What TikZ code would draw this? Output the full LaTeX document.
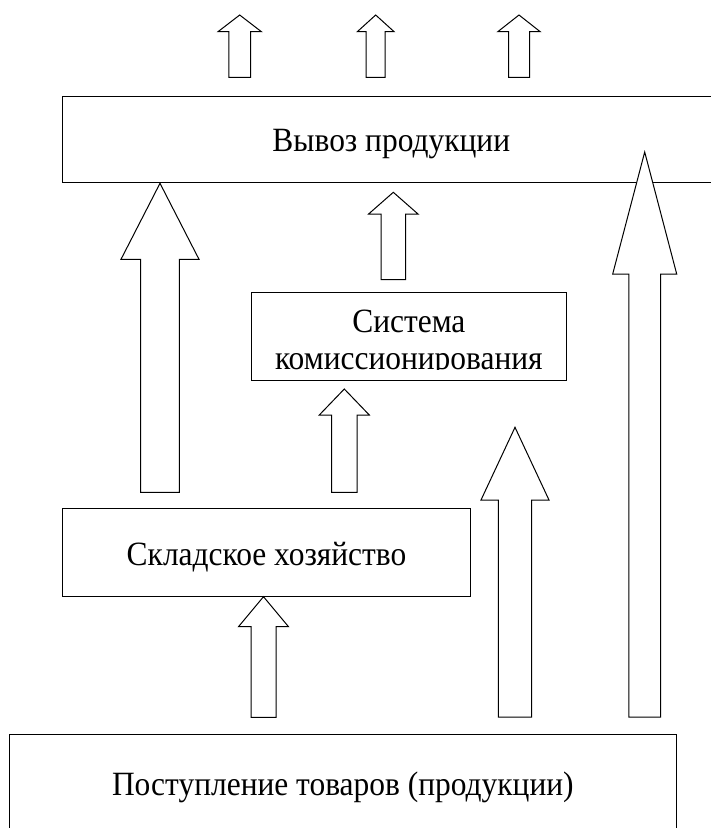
\documentclass[tikz,border=0pt]{standalone}
\usepackage{fontspec}
\setmainfont{Liberation Serif}
\newcommand{\narrowtext}[1]{\scalebox{0.925}[1]{#1}}
\tikzset{
  box/.style={draw,line width=1pt,inner sep=0pt},
  boxtext/.style={font=\fontsize{34}{37}\selectfont,inner sep=0pt,anchor=base},
  blockarrow/.style={draw,fill=white,line width=1pt,line join=miter}
}
\begin{document}
\begin{tikzpicture}[x=1pt,y=-1pt]
\useasboundingbox (0,0) rectangle (711,828);
\clip (0,0) rectangle (711,828);

% Boxes
\node[box,minimum width=657.3,minimum height=85.6] (vyvoz) at (391.3,139.5) {};
\node[boxtext] (vyvoztext) at (391.3,151.7) {\narrowtext{Вывоз продукции}};

\node[box,minimum width=314.3,minimum height=87.7] (sistema) at (408.85,336.15) {};
\begin{scope}
  \clip (sistema.north west) rectangle ([yshift=11pt]sistema.south east);
  % base of a two-line node is the baseline of its last line
  \node[boxtext,align=center] (sistematext) at (408.85,369.7) {\narrowtext{Система}\\\narrowtext{комиссионирования}};
\end{scope}

\node[box,minimum width=407.6,minimum height=88] (sklad) at (266.5,552.7) {};
\node[boxtext] (skladtext) at (266.5,565.7) {\narrowtext{Складское хозяйство}};

\node[box,minimum width=667.7,minimum height=104] (postup) at (342.85,786) {};
\node[boxtext] (postuptext) at (342.85,795.7) {\narrowtext{Поступление товаров (продукции)}};

% Block arrows: centre / tip / neck / tail / half head / half shaft
\foreach \cx/\tip/\neck/\tail/\hh/\hs in {
  239.7/15/31.7/77.3/21.7/10.8,
  375.7/15/31.7/77.3/18.4/9.5,
  519/15/31.7/77.3/21.2/10.5,
  160/183.3/259.3/492.3/39/19.3,
  393.3/192.3/214/279.7/24.7/12.3,
  344.3/389/415/492.3/25/12.8,
  263.5/596.7/626.7/717.3/25/12.5,
  515/427.3/500/717/34/16.7,
  644.7/152/274/717/32/15.8} {
  \draw[blockarrow] (\cx-\hs,\tail) -- (\cx-\hs,\neck) -- (\cx-\hh,\neck) -- (\cx,\tip)
    -- (\cx+\hh,\neck) -- (\cx+\hs,\neck) -- (\cx+\hs,\tail) -- cycle;
}
\end{tikzpicture}
\end{document}
